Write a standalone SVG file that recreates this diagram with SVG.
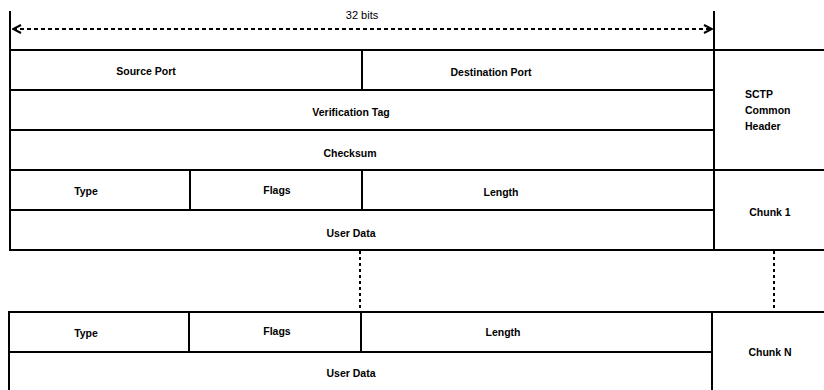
<svg xmlns="http://www.w3.org/2000/svg" width="824" height="390" viewBox="0 0 824 390">
<style>
.ln{stroke:#000;stroke-width:2;fill:none;stroke-linecap:square}
.dot{stroke:#000;stroke-width:2;fill:none;stroke-dasharray:3 3}
.lb{font-family:"Liberation Sans",Arial,sans-serif;font-size:10.5px;font-weight:bold;fill:#000;text-anchor:middle}
.lbl{font-family:"Liberation Sans",Arial,sans-serif;font-size:10.5px;font-weight:bold;fill:#000}
.t{font-family:"Liberation Sans",Arial,sans-serif;font-size:11px;fill:#000;text-anchor:middle}
</style>
<defs>
<marker id="ah" viewBox="0 0 10 10" refX="9" refY="5" markerWidth="10" markerHeight="10" markerUnits="userSpaceOnUse" orient="auto-start-reverse">
<polyline points="1,1 9,5 1,9" fill="none" stroke="#000" stroke-width="2"/>
</marker>
</defs>
<rect width="824" height="390" fill="#fff"/>
<g id="bits">
<line class="ln" x1="10" y1="12" x2="10" y2="250"/>
<line class="ln" x1="714" y1="12" x2="714" y2="250"/>
<text class="t" x="362" y="19">32 bits</text>
</g>
<g id="header">
<line class="ln" x1="10" y1="50" x2="824" y2="50"/>
<line class="ln" x1="10" y1="90" x2="714" y2="90"/>
<line class="ln" x1="10" y1="130" x2="714" y2="130"/>
<line class="ln" x1="10" y1="170" x2="824" y2="170"/>
<line class="ln" x1="362" y1="50" x2="362" y2="90"/>
<text class="lb" x="146" y="74.5">Source Port</text>
<text class="lb" x="491" y="75.5">Destination Port</text>
<text class="lb" x="351" y="115.5">Verification Tag</text>
<text class="lb" x="350" y="156.5">Checksum</text>
<text class="lbl" x="745" y="97.5">SCTP</text>
<text class="lbl" x="745" y="113.5">Common</text>
<text class="lbl" x="745" y="129.5">Header</text>
</g>
<g id="chunk1">
<line class="ln" x1="10" y1="210" x2="714" y2="210"/>
<line class="ln" x1="10" y1="250" x2="824" y2="250"/>
<line class="ln" x1="190" y1="170" x2="190" y2="210"/>
<line class="ln" x1="362" y1="170" x2="362" y2="210"/>
<text class="lb" x="86" y="194.5">Type</text>
<text class="lb" x="277" y="193.5">Flags</text>
<text class="lb" x="501" y="195.5">Length</text>
<text class="lb" x="351" y="236.5">User Data</text>
<text class="lb" x="770" y="215.5">Chunk 1</text>
</g>
<g id="chunkN">
<line class="ln" x1="9" y1="312" x2="824" y2="312"/>
<line class="ln" x1="9" y1="352" x2="712" y2="352"/>
<line class="ln" x1="9" y1="312" x2="9" y2="391"/>
<line class="ln" x1="712" y1="312" x2="712" y2="391"/>
<line class="ln" x1="189" y1="312" x2="189" y2="352"/>
<line class="ln" x1="361" y1="312" x2="361" y2="352"/>
<text class="lb" x="86" y="336.5">Type</text>
<text class="lb" x="277" y="334.5">Flags</text>
<text class="lb" x="503" y="335.5">Length</text>
<text class="lb" x="351" y="376.5">User Data</text>
<text class="lb" x="770" y="355.5">Chunk N</text>
</g>
<g id="connectors">
<line class="ln" x1="13" y1="29" x2="712" y2="29" stroke-dasharray="4 3" marker-start="url(#ah)" marker-end="url(#ah)" style="stroke-linecap:butt"/>
<line class="dot" x1="360" y1="251" x2="360" y2="311"/>
<line class="dot" x1="774" y1="251" x2="774" y2="311"/>
</g>
</svg>
